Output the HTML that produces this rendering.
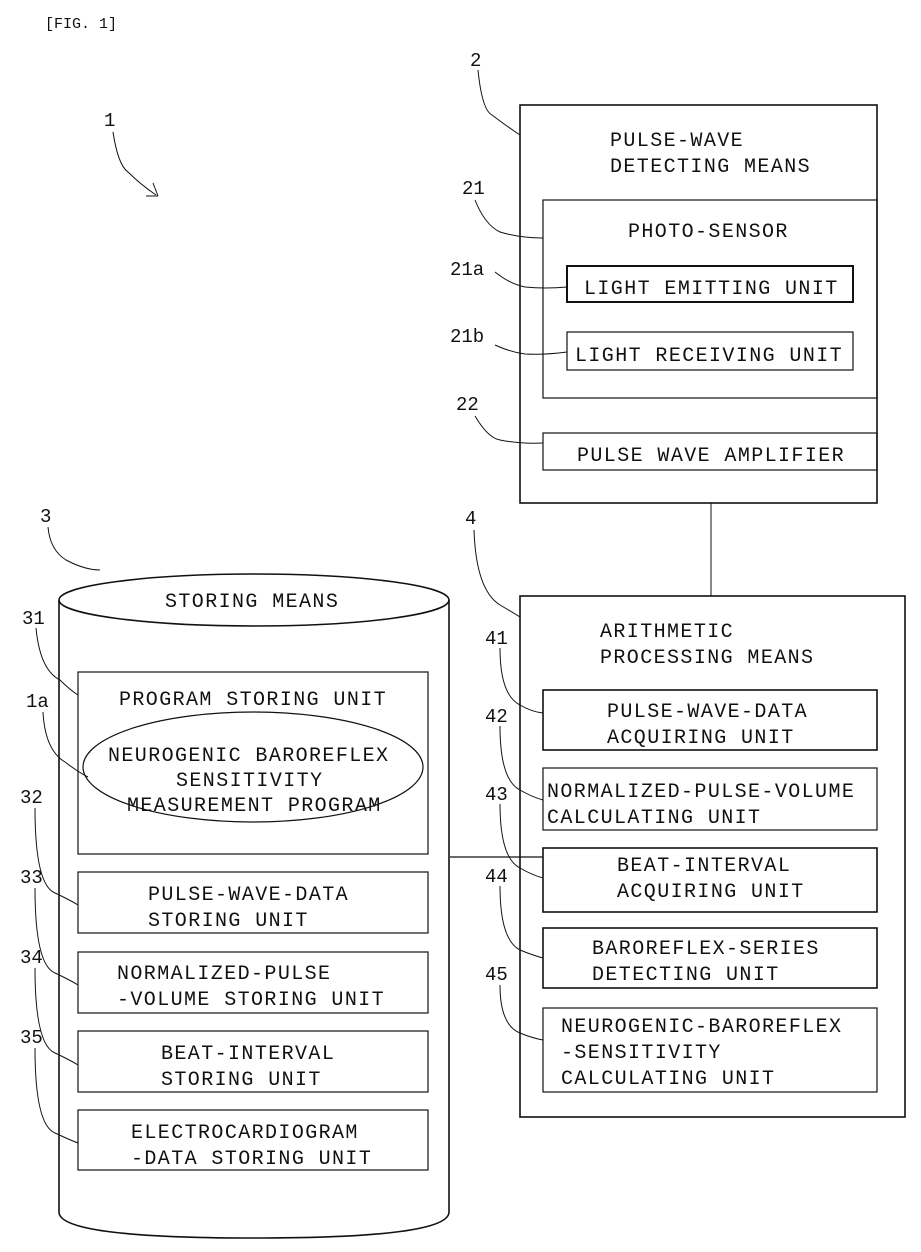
<!DOCTYPE html>
<html><head><meta charset="utf-8"><style>
html,body{margin:0;padding:0;background:#fff}
svg{display:block}
text{font-family:"Liberation Mono",monospace;font-size:20px;letter-spacing:1.4px;fill:#111}
.n{font-size:19px;letter-spacing:0}
</style></head><body>
<svg width="921" height="1252" viewBox="0 0 921 1252" xmlns="http://www.w3.org/2000/svg">
<g fill="none" stroke="#111" stroke-width="1.6">
<rect x="520" y="105" width="357" height="398"/>
<rect x="543" y="200" width="334" height="198" stroke-width="1.2"/>
<rect x="567" y="266" width="286" height="36" stroke-width="2"/>
<rect x="567" y="332" width="286" height="38" stroke-width="1.2"/>
<rect x="543" y="433" width="334" height="37" stroke-width="1.2"/>
<line x1="711" y1="503" x2="711" y2="596" stroke-width="1"/>
<rect x="520" y="596" width="385" height="521"/>
<rect x="543" y="690" width="334" height="60"/>
<rect x="543" y="768" width="334" height="62" stroke-width="1.2"/>
<rect x="543" y="848" width="334" height="64"/>
<rect x="543" y="928" width="334" height="60"/>
<rect x="543" y="1008" width="334" height="84" stroke-width="1.2"/>
<line x1="450" y1="857" x2="543" y2="857" stroke-width="1.2"/>
<ellipse cx="254" cy="600" rx="195" ry="26"/>
<path d="M59 600 V1212 Q59 1238 254 1238 Q449 1238 449 1212 V600"/>
<rect x="78" y="672" width="350" height="182" stroke-width="1.2"/>
<ellipse cx="253" cy="767" rx="170" ry="55" stroke-width="1.2"/>
<rect x="78" y="872" width="350" height="61" stroke-width="1.2"/>
<rect x="78" y="952" width="350" height="61" stroke-width="1.2"/>
<rect x="78" y="1031" width="350" height="61" stroke-width="1.2"/>
<rect x="78" y="1110" width="350" height="60" stroke-width="1.2"/>
<g stroke-width="1">
<path d="M478 70 Q482 110 492 115 Q505 125 520 135"/>
<path d="M113 132 Q118 165 128 172 Q140 184 156 195"/>
<path d="M158 196 L146 196 M158 196 L153 183"/>
<path d="M475 200 Q485 225 500 232 Q520 238 543 238"/>
<path d="M495 272 Q510 284 525 287 Q545 289 567 287"/>
<path d="M495 345 Q510 352 525 354 Q545 355 567 352"/>
<path d="M475 416 Q488 438 500 440 Q520 444 543 443"/>
<path d="M48 527 Q50 550 66 560 Q85 570 100 570"/>
<path d="M474 530 Q476 590 500 605 Q512 612 520 617"/>
<path d="M36 628 Q40 670 60 680 Q70 690 78 695"/>
<path d="M43 712 Q45 750 65 762 Q78 772 88 777"/>
<path d="M35 808 Q35 885 55 893 Q70 900 78 905"/>
<path d="M35 888 Q35 965 55 973 Q70 980 78 985"/>
<path d="M35 968 Q35 1045 55 1053 Q70 1060 78 1065"/>
<path d="M35 1048 Q35 1125 55 1133 Q70 1140 78 1143"/>
<path d="M500 648 Q500 695 520 705 Q532 712 543 713"/>
<path d="M500 726 Q500 780 520 790 Q532 797 543 800"/>
<path d="M500 804 Q500 858 520 868 Q532 875 543 878"/>
<path d="M500 886 Q500 940 520 950 Q532 955 543 958"/>
<path d="M500 985 Q500 1025 520 1033 Q532 1038 543 1040"/>
</g>
</g>
<text x="45" y="28" class="n" style="font-size:15px">[FIG. 1]</text>
<text class="n" x="470" y="66">2</text>
<text class="n" x="104" y="126">1</text>
<text class="n" x="462" y="194">21</text>
<text class="n" x="450" y="275">21a</text>
<text class="n" x="450" y="342">21b</text>
<text class="n" x="456" y="410">22</text>
<text class="n" x="40" y="522">3</text>
<text class="n" x="465" y="524">4</text>
<text class="n" x="22" y="624">31</text>
<text class="n" x="26" y="707">1a</text>
<text class="n" x="20" y="803">32</text>
<text class="n" x="20" y="883">33</text>
<text class="n" x="20" y="963">34</text>
<text class="n" x="20" y="1043">35</text>
<text class="n" x="485" y="644">41</text>
<text class="n" x="485" y="722">42</text>
<text class="n" x="485" y="800">43</text>
<text class="n" x="485" y="882">44</text>
<text class="n" x="485" y="980">45</text>
<text x="610" y="146">PULSE-WAVE</text>
<text x="610" y="172">DETECTING MEANS</text>
<text x="628" y="237">PHOTO-SENSOR</text>
<text x="584" y="294">LIGHT EMITTING UNIT</text>
<text x="575" y="361">LIGHT RECEIVING UNIT</text>
<text x="577" y="461">PULSE WAVE AMPLIFIER</text>
<text x="600" y="637">ARITHMETIC</text>
<text x="600" y="663">PROCESSING MEANS</text>
<text x="607" y="717">PULSE-WAVE-DATA</text>
<text x="607" y="743">ACQUIRING UNIT</text>
<text x="547" y="797">NORMALIZED-PULSE-VOLUME</text>
<text x="547" y="823">CALCULATING UNIT</text>
<text x="617" y="871">BEAT-INTERVAL</text>
<text x="617" y="897">ACQUIRING UNIT</text>
<text x="592" y="954">BAROREFLEX-SERIES</text>
<text x="592" y="980">DETECTING UNIT</text>
<text x="561" y="1032">NEUROGENIC-BAROREFLEX</text>
<text x="561" y="1058">-SENSITIVITY</text>
<text x="561" y="1084">CALCULATING UNIT</text>
<text x="165" y="607">STORING MEANS</text>
<text x="119" y="705">PROGRAM STORING UNIT</text>
<text x="108" y="761">NEUROGENIC BAROREFLEX</text>
<text x="176" y="786">SENSITIVITY</text>
<text x="127" y="811">MEASUREMENT PROGRAM</text>
<text x="148" y="900">PULSE-WAVE-DATA</text>
<text x="148" y="926">STORING UNIT</text>
<text x="117" y="979">NORMALIZED-PULSE</text>
<text x="117" y="1005">-VOLUME STORING UNIT</text>
<text x="161" y="1059">BEAT-INTERVAL</text>
<text x="161" y="1085">STORING UNIT</text>
<text x="131" y="1138">ELECTROCARDIOGRAM</text>
<text x="131" y="1164">-DATA STORING UNIT</text>
</svg>
</body></html>
